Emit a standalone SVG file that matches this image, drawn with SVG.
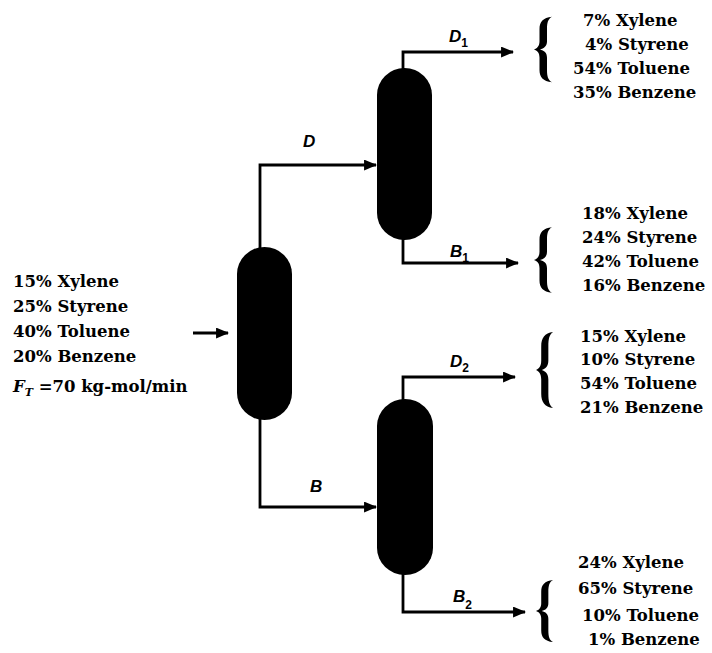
<svg xmlns="http://www.w3.org/2000/svg" xmlns:xlink="http://www.w3.org/1999/xlink" width="712" height="653" viewBox="0 0 712 653">
<style>
.col{fill:#000}
.ln{fill:none;stroke:#000;stroke-width:2.8;marker-end:url(#ah)}
.t{font-family:"DejaVu Serif","Liberation Serif",serif;font-weight:bold;font-size:16.5px;fill:#000}
.lb{font-family:"Liberation Sans",Arial,sans-serif;font-weight:bold;font-style:italic;font-size:17px;fill:#000}
.sub{font-size:12px;font-style:normal}
.br{fill:#000}
</style>
<defs>
<marker id="ah" viewBox="0 0 12 10" refX="11" refY="5" markerWidth="13" markerHeight="11" markerUnits="userSpaceOnUse" orient="auto">
<path d="M0,0 L12,5 L0,10 z" fill="#000"/>
</marker>
<path id="brace" d="M18,-32 C9,-31 5.5,-27 5.5,-20 L5.5,-8 C5.5,-3 3,-1 0,0 C3,1 5.5,3 5.5,8 L5.5,20 C5.5,27 9,31 18,32 C14,30 13,26 13,20 L13,8 C13,3 10,1 6,0 C10,-1 13,-3 13,-8 L13,-20 C13,-26 14,-30 18,-32 Z"/>
</defs>

<g id="connectors">
<path class="ln" d="M193,333 L228,333"/>
<path class="ln" d="M260,248 L260,165 L376,165"/>
<path class="ln" d="M260,419 L260,507 L376,507"/>
<path class="ln" d="M403,69 L403,52 L513,52"/>
<path class="ln" d="M403,239 L403,263 L518,263"/>
<path class="ln" d="M403,400 L403,377 L515,377"/>
<path class="ln" d="M403,574 L403,612 L525,612"/>
</g>

<g id="feed">
<text class="t" x="13" y="287">15% Xylene</text>
<text class="t" x="13" y="312">25% Styrene</text>
<text class="t" x="13" y="337">40% Toluene</text>
<text class="t" x="13" y="362">20% Benzene</text>
<text class="t" x="13" y="392"><tspan font-style="italic">F</tspan><tspan font-style="italic" font-size="11" dy="4">T</tspan><tspan dy="-4"> =70 kg-mol/min</tspan></text>
</g>

<g id="column1"><rect class="col" x="237" y="247" width="55" height="173" rx="27.5" ry="27"/></g>
<g id="column2"><rect class="col" x="377" y="68" width="55" height="172" rx="27.5" ry="27"/></g>
<g id="column3"><rect class="col" x="377" y="399" width="56" height="176" rx="28" ry="27"/></g>

<g id="labels">
<text class="lb" x="303" y="147">D</text>
<text class="lb" x="310" y="492">B</text>
<text class="lb" x="449" y="42">D<tspan class="sub" dy="5">1</tspan></text>
<text class="lb" x="450" y="257">B<tspan class="sub" dy="5">1</tspan></text>
<text class="lb" x="450" y="367">D<tspan class="sub" dy="5">2</tspan></text>
<text class="lb" x="453" y="602">B<tspan class="sub" dy="7">2</tspan></text>
</g>

<g id="product-D1">
<use xlink:href="#brace" class="br" transform="translate(534,49.5) scale(1,1.02)"/>
<text class="t" x="583" y="26">7% Xylene</text>
<text class="t" x="585" y="50">4% Styrene</text>
<text class="t" x="573" y="74">54% Toluene</text>
<text class="t" x="573" y="98">35% Benzene</text>
</g>

<g id="product-B1">
<use xlink:href="#brace" class="br" transform="translate(534,260) scale(1,1.02)"/>
<text class="t" x="582" y="219">18% Xylene</text>
<text class="t" x="582" y="243">24% Styrene</text>
<text class="t" x="582" y="267">42% Toluene</text>
<text class="t" x="582" y="291">16% Benzene</text>
</g>

<g id="product-D2">
<use xlink:href="#brace" class="br" transform="translate(536,370) scale(0.95,1.19)"/>
<text class="t" x="580" y="342">15% Xylene</text>
<text class="t" x="580" y="365">10% Styrene</text>
<text class="t" x="580" y="389">54% Toluene</text>
<text class="t" x="580" y="413">21% Benzene</text>
</g>

<g id="product-B2">
<use xlink:href="#brace" class="br" transform="translate(536,611) scale(0.95,0.97)"/>
<text class="t" x="578" y="568">24% Xylene</text>
<text class="t" x="578" y="594">65% Styrene</text>
<text class="t" x="582" y="621">10% Toluene</text>
<text class="t" x="588" y="645">1% Benzene</text>
</g>
</svg>
